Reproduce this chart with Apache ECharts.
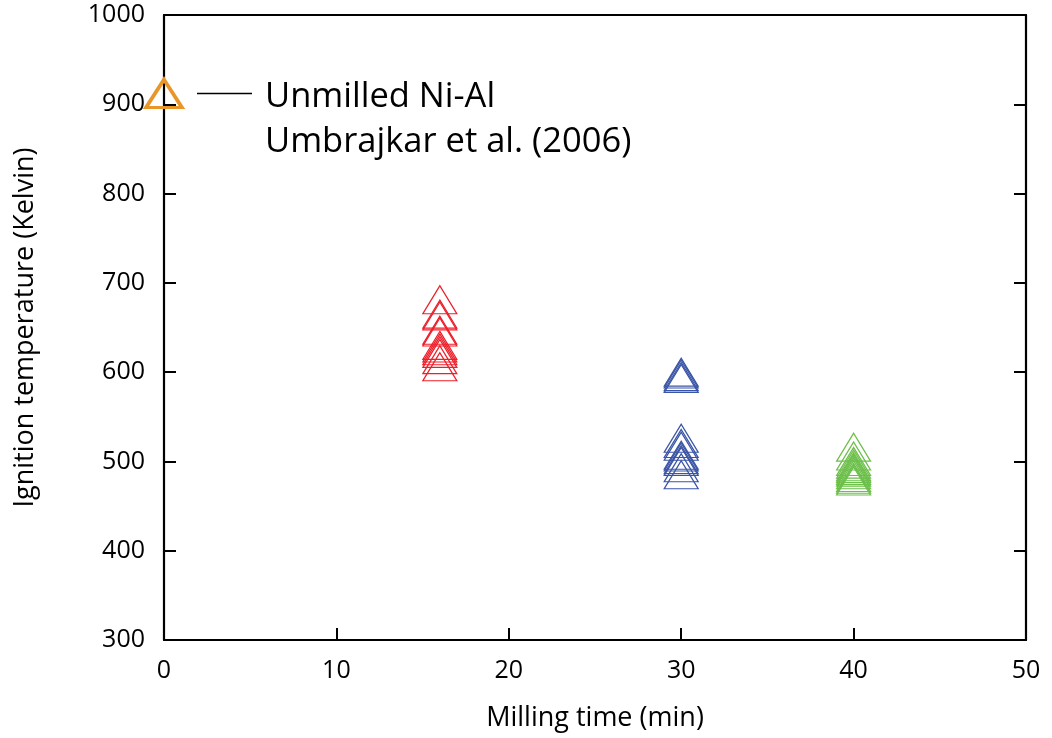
<!DOCTYPE html>
<html>
<head>
<meta charset="utf-8">
<style>
  html, body { margin: 0; padding: 0; background: #fff; }
  #chart { width: 1052px; height: 738px; }
</style>
<script src="https://cdn.jsdelivr.net/npm/echarts@6/dist/echarts.min.js"></script>
</head>
<body>
<div id="chart"></div>
<script>
// Ignition temperature (K) of Ni-Al powders versus milling time (min)
const xTicks = [0, 10, 20, 30, 40, 50];
const yTicks = [300, 400, 500, 600, 700, 800, 900, 1000];

const unmilled = [[0, 912]];
const milled16 = [681, 665, 663, 647, 645, 630, 627, 624, 621, 614, 606];
const milled30 = [600, 598, 595, 593, 526, 520, 517, 507, 505, 502, 500, 493, 485];
const milled40 = [516, 506, 500, 497, 494, 492, 490, 488, 485, 482, 480, 478];

const legendLines = ['Unmilled Ni-Al', 'Umbrajkar et al. (2006)'];

const FONT = '"Open Sans", "Noto Sans", sans-serif';

function pts(t, arr) { return arr.map(v => [t, v]); }

function triSeries(data, color, size, width) {
  return {
    type: 'scatter',
    data: data,
    symbol: 'triangle',
    symbolSize: size,
    clip: false,
    itemStyle: { color: 'rgba(0,0,0,0)', borderColor: color, borderWidth: width, opacity: 1 },
    emphasis: { disabled: true },
    silent: true,
    z: 3
  };
}

// frame line and inward ticks, fresh objects for every axis
function frameLine() { return { show: true, onZero: false, lineStyle: { color: '#000', width: 2.2 } }; }
function inwardTicks() { return { show: true, inside: true, length: 12, lineStyle: { color: '#000', width: 2 } }; }

const chart = echarts.init(document.getElementById('chart'), null, { renderer: 'canvas' });

chart.setOption({
  animation: false,
  backgroundColor: '#fff',
  grid: { left: 164, right: 26, top: 15, bottom: 98, containLabel: false },
  xAxis: [{
    type: 'value', min: xTicks[0], max: xTicks[xTicks.length - 1], interval: 10,
    position: 'bottom',
    name: 'Milling time (min)', nameLocation: 'middle', nameGap: 65,
    nameTextStyle: { fontFamily: FONT, fontSize: 27, color: '#000' },
    axisLine: frameLine(), axisTick: inwardTicks(),
    axisLabel: { fontFamily: FONT, fontSize: 25, color: '#000', margin: 18, formatter: v => String(v) },
    splitLine: { show: false }
  }, {
    type: 'value', min: xTicks[0], max: xTicks[xTicks.length - 1], interval: 10,
    position: 'top',
    axisLine: frameLine(), axisTick: { show: false }, axisLabel: { show: false },
    splitLine: { show: false }
  }],
  yAxis: [{
    type: 'value', min: yTicks[0], max: yTicks[yTicks.length - 1], interval: 100,
    position: 'left',
    name: 'Ignition temperature (Kelvin)', nameLocation: 'middle', nameGap: 125,
    nameTextStyle: { fontFamily: FONT, fontSize: 27, color: '#000' },
    axisLine: frameLine(), axisTick: inwardTicks(),
    axisLabel: { fontFamily: FONT, fontSize: 25, color: '#000', margin: 19, formatter: v => String(v) },
    splitLine: { show: false }
  }, {
    type: 'value', min: yTicks[0], max: yTicks[yTicks.length - 1], interval: 100,
    position: 'right',
    axisLine: frameLine(), axisTick: inwardTicks(), axisLabel: { show: false },
    splitLine: { show: false }
  }],
  series: [
    triSeries(pts(16, milled16), '#ee1f2a', [34, 28], 1.2),
    triSeries(pts(30, milled30), '#3b55a6', [34, 28], 1.2),
    triSeries(pts(40, milled40), '#6cbf4a', [34, 28], 1.2),
    Object.assign(triSeries(unmilled, '#e8962a', [36, 28], 3.5), { z: 4 })
  ],
  graphic: [
    {
      type: 'line', silent: true,
      shape: { x1: 197, y1: 93.5, x2: 252, y2: 93.5 },
      style: { stroke: '#000', lineWidth: 1.6 }
    },
    {
      type: 'text', silent: true, left: 265, top: 80,
      style: { text: legendLines[0], fontFamily: FONT, fontSize: 34.5, fill: '#000' }
    },
    {
      type: 'text', silent: true, left: 265, top: 125,
      style: { text: legendLines[1], fontFamily: FONT, fontSize: 34.5, fill: '#000' }
    }
  ]
});
</script>
</body>
</html>
